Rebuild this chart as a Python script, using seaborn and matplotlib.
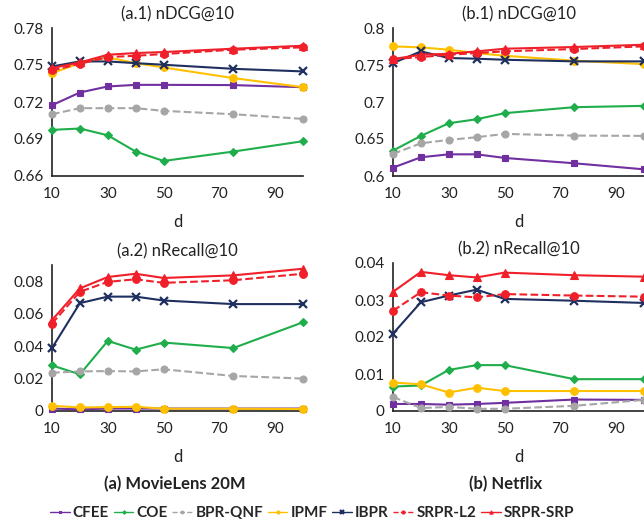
import numpy as np
import pandas as pd
import matplotlib
matplotlib.use("Agg")
import matplotlib.pyplot as plt
import seaborn as sns

# --- data ---
d = [10, 20, 30, 40, 50, 75, 100]
methods = ["CFEE", "COE", "BPR-QNF", "IPMF", "IBPR", "SRPR-L2", "SRPR-SRP"]

# (a.1) MovieLens 20M nDCG@10
ml_ndcg = {
    "CFEE":     [0.7174, 0.7277, 0.7326, 0.7339, 0.7339, 0.7337, 0.7320],
    "COE":      [0.6974, 0.6985, 0.6930, 0.6798, 0.6722, 0.6798, 0.6882],
    "BPR-QNF":  [0.7101, 0.7150, 0.7150, 0.7150, 0.7128, 0.7101, 0.7063],
    "IPMF":     [0.7434, 0.7515, 0.7562, 0.7515, 0.7480, 0.7394, 0.7320],
    "IBPR":     [0.7488, 0.7529, 0.7529, 0.7515, 0.7502, 0.7469, 0.7448],
    "SRPR-L2":  [0.7456, 0.7510, 0.7564, 0.7575, 0.7589, 0.7624, 0.7643],
    "SRPR-SRP": [0.7475, 0.7521, 0.7583, 0.7597, 0.7605, 0.7632, 0.7656],
}
# (b.1) Netflix nDCG@10
nf_ndcg = {
    "CFEE":     [0.6113, 0.6253, 0.6293, 0.6293, 0.6244, 0.6172, 0.6090],
    "COE":      [0.6343, 0.6542, 0.6713, 0.6767, 0.6849, 0.6930, 0.6948],
    "BPR-QNF":  [0.6298, 0.6442, 0.6488, 0.6524, 0.6569, 0.6546, 0.6542],
    "IPMF":     [0.7752, 0.7738, 0.7707, 0.7661, 0.7625, 0.7558, 0.7512],
    "IBPR":     [0.7526, 0.7684, 0.7594, 0.7585, 0.7571, 0.7549, 0.7549],
    "SRPR-L2":  [0.7580, 0.7607, 0.7639, 0.7661, 0.7684, 0.7716, 0.7752],
    "SRPR-SRP": [0.7580, 0.7639, 0.7652, 0.7684, 0.7720, 0.7743, 0.7774],
}
# (a.2) MovieLens 20M nRecall@10
ml_recall = {
    "CFEE":     [0.0015, 0.0010, 0.0015, 0.0015, 0.0015, 0.0015, 0.0015],
    "COE":      [0.0281, 0.0226, 0.0432, 0.0378, 0.0422, 0.0388, 0.0547],
    "BPR-QNF":  [0.0236, 0.0244, 0.0246, 0.0244, 0.0257, 0.0216, 0.0200],
    "IPMF":     [0.0032, 0.0022, 0.0024, 0.0026, 0.0014, 0.0014, 0.0012],
    "IBPR":     [0.0388, 0.0665, 0.0705, 0.0705, 0.0681, 0.0659, 0.0659],
    "SRPR-L2":  [0.0539, 0.0735, 0.0796, 0.0812, 0.0790, 0.0806, 0.0846],
    "SRPR-SRP": [0.0560, 0.0756, 0.0826, 0.0846, 0.0820, 0.0836, 0.0877],
}
# (b.2) Netflix nRecall@10
nf_recall = {
    "CFEE":     [0.0019, 0.0019, 0.0017, 0.0019, 0.0022, 0.0031, 0.0030],
    "COE":      [0.0066, 0.0069, 0.0111, 0.0124, 0.0124, 0.0086, 0.0086],
    "BPR-QNF":  [0.0038, 0.0008, 0.0011, 0.0006, 0.0006, 0.0014, 0.0030],
    "IPMF":     [0.0077, 0.0072, 0.0050, 0.0063, 0.0054, 0.0054, 0.0054],
    "IBPR":     [0.0209, 0.0294, 0.0312, 0.0328, 0.0303, 0.0298, 0.0292],
    "SRPR-L2":  [0.0271, 0.0321, 0.0312, 0.0307, 0.0316, 0.0312, 0.0309],
    "SRPR-SRP": [0.0322, 0.0376, 0.0367, 0.0361, 0.0374, 0.0367, 0.0363],
}

colors = {"CFEE": "#7030A0", "COE": "#1FAE4B", "BPR-QNF": "#A6A6A6",
          "IPMF": "#FFC000", "IBPR": "#1F2F5F", "SRPR-L2": "#F0202A",
          "SRPR-SRP": "#F0202A"}
markers = {"CFEE": "s", "COE": "D", "BPR-QNF": "o", "IPMF": "o",
           "IBPR": "x", "SRPR-L2": "o", "SRPR-SRP": "^"}
msizes = {"CFEE": 5, "COE": 4.5, "BPR-QNF": 5, "IPMF": 5.5,
          "IBPR": 6, "SRPR-L2": 5.5, "SRPR-SRP": 6}
dashed = {"BPR-QNF", "SRPR-L2"}

sns.set_theme(style="white")
plt.rcParams["font.family"] = ["Lato", "DejaVu Sans"]

fig = plt.figure(figsize=(6.44, 5.27), dpi=100)
W, H = 644, 527

def px_axes(l, t, r, b):
    return fig.add_axes([l / W, 1 - b / H, (r - l) / W, (b - t) / H])

panels = [
    (px_axes(52, 28, 303, 176), ml_ndcg, "(a.1) nDCG@10", (0.66, 0.78), [0.66, 0.69, 0.72, 0.75, 0.78]),
    (px_axes(393, 28, 644, 176), nf_ndcg, "(b.1) nDCG@10", (0.6, 0.8), [0.6, 0.65, 0.7, 0.75, 0.8]),
    (px_axes(52, 265, 303, 411), ml_recall, "(a.2) nRecall@10", (0, 0.09), [0, 0.02, 0.04, 0.06, 0.08]),
    (px_axes(393, 263, 644, 411), nf_recall, "(b.2) nRecall@10", (0, 0.04), [0, 0.01, 0.02, 0.03, 0.04]),
]

def fmt(v):
    s = f"{v:.2f}".rstrip("0").rstrip(".")
    return s if s else "0"

for ax, data, title, ylim, yticks in panels:
    for m in methods:
        sns.lineplot(x=d, y=data[m], ax=ax, color=colors[m], marker=markers[m],
                     markersize=msizes[m], markeredgecolor=colors[m],
                     markeredgewidth=1.6 if m == "IBPR" else 0.8,
                     linewidth=1.5, linestyle="--" if m in dashed else "-",
                     label=m, legend=False, clip_on=False, zorder=3)
    ax.set_xlim(10, 100)
    ax.set_ylim(*ylim)
    ax.set_xticks([10, 30, 50, 70, 90])
    ax.set_yticks(yticks)
    ax.set_yticklabels([fmt(v) for v in yticks])
    ax.tick_params(axis="x", length=0, labelsize=11, colors="#222222", pad=8)
    ax.tick_params(axis="y", length=0, labelsize=11, colors="#222222", pad=6)
    ax.set_title(title, fontsize=12, color="#222222", pad=6)
    ax.set_xlabel("d", fontsize=12, color="#222222", labelpad=9)
    sns.despine(ax=ax)
    for s in ["left", "bottom"]:
        ax.spines[s].set_color("#222222")
        ax.spines[s].set_linewidth(1.2)
    ax.patch.set_alpha(0)

fig.text(175 / W, 1 - 484 / H, "(a) MovieLens 20M", ha="center", va="center",
         fontsize=12, fontweight="bold", color="#222222")
fig.text(506 / W, 1 - 484 / H, "(b) Netflix", ha="center", va="center",
         fontsize=12, fontweight="bold", color="#222222")

handles, labels = panels[0][0].get_legend_handles_labels()
leg = fig.legend(handles, labels, loc="center", bbox_to_anchor=(312 / W, 1 - 513 / H),
                 ncol=7, frameon=False, handlelength=1.3,
                 handletextpad=0.2, columnspacing=0.3, markerscale=0.4,
                 prop={"weight": "bold", "size": 11})
for line in leg.get_lines():
    line.set_linewidth(1.0)

fig.savefig("out.png", dpi=100)
